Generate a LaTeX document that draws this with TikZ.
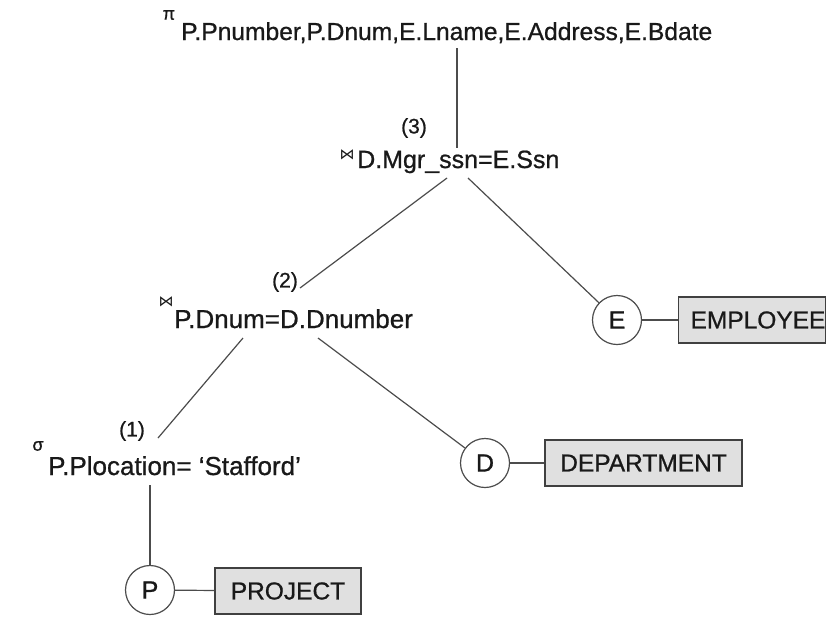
\documentclass[tikz,border=0pt]{standalone}
\usepackage{fontspec}
\setmainfont[FakeBold=0.8]{Liberation Sans}
\newfontfamily\dejavu{DejaVu Sans}
\begin{document}
\begin{tikzpicture}[x=1pt,y=-1pt,
  lbl/.style={inner sep=0pt, font=\fontsize{25}{28}\selectfont, text=black!90},
  num/.style={inner sep=0pt, font=\fontsize{21}{24}\selectfont, text=black!90},
  sym/.style={inner sep=0pt, font=\fontsize{18}{20}\selectfont, text=black!90},
  bow/.style={inner sep=0pt, font=\dejavu\fontsize{15}{17}\selectfont, text=black!90},
  rel/.style={circle, draw=black!70, line width=1.2pt, minimum size=49pt, inner sep=0pt, fill=white, font=\fontsize{25}{28}\selectfont, text=black!90},
  tbl/.style={draw=black!75, line width=1.4pt, fill=black!12, minimum height=46pt, inner sep=0pt, font=\fontsize{24.5}{28}\selectfont, text=black!90},
  edge/.style={draw=black!70, line width=1.2pt}]
\useasboundingbox[fill=white] (0,0) rectangle (827,619);

% projection
\node[sym] (pi) at (169,15) {π};
\node[lbl, anchor=base west, font=\fontsize{24.6}{28}\selectfont] (proj) at (181,40) {P.Pnumber,P.Dnum,E.Lname,E.Address,E.Bdate};

% join 3
\node[num] (n3) at (414,128) {(3)};
\node[bow] (bt3) at (347,155) {⋈};
\node[lbl, anchor=base west] (j3) at (357,168) {D.Mgr\_ssn=E.Ssn};

% join 2
\node[num] (n2) at (285,282) {(2)};
\node[bow] (bt2) at (166,302) {⋈};
\node[lbl, anchor=base west, font=\fontsize{26}{28}\selectfont] (j2) at (174,328) {P.Dnum=D.Dnumber};

% selection
\node[num] (n1) at (132,431) {(1)};
\node[sym] (sg) at (38,446) {σ};
\node[lbl, anchor=base west, font=\fontsize{26}{28}\selectfont] (sel) at (48,475) {P.Plocation= ‘Stafford’};

% relations
\node[rel] (P) at (150,590) {P};
\node[rel] (D) at (485,463) {D};
\node[rel] (E) at (617,320) {E};
\node[tbl, minimum width=146pt] (tp) at (288,591) {PROJECT};
\node[tbl, minimum width=197pt] (td) at (643.5,463) {DEPARTMENT};
\node[tbl, minimum width=146pt, font=\fontsize{24.5}{28}\selectfont] (te) at (752,320) {\hspace*{12pt}EMPLOYEE};

% connector end points
\coordinate (a1) at (457,48);
\coordinate (a2) at (457,148);
\coordinate (b1) at (447,178);
\coordinate (b2) at (300,288);
\coordinate (c1) at (468,178);
\coordinate (d1) at (243,338);
\coordinate (d2) at (158,438);
\coordinate (e1) at (318,338);
\coordinate (f1) at (150,485);

\draw[edge] (a1) -- (a2);
\draw[edge] (b1) -- (b2);
\draw[edge] (c1) -- (E);
\draw[edge] (d1) -- (d2);
\draw[edge] (e1) -- (D);
\draw[edge] (f1) -- (P);
\draw[edge] (P) -- (tp);
\draw[edge] (D) -- (td);
\draw[edge] (E) -- (te);
\end{tikzpicture}
\end{document}
